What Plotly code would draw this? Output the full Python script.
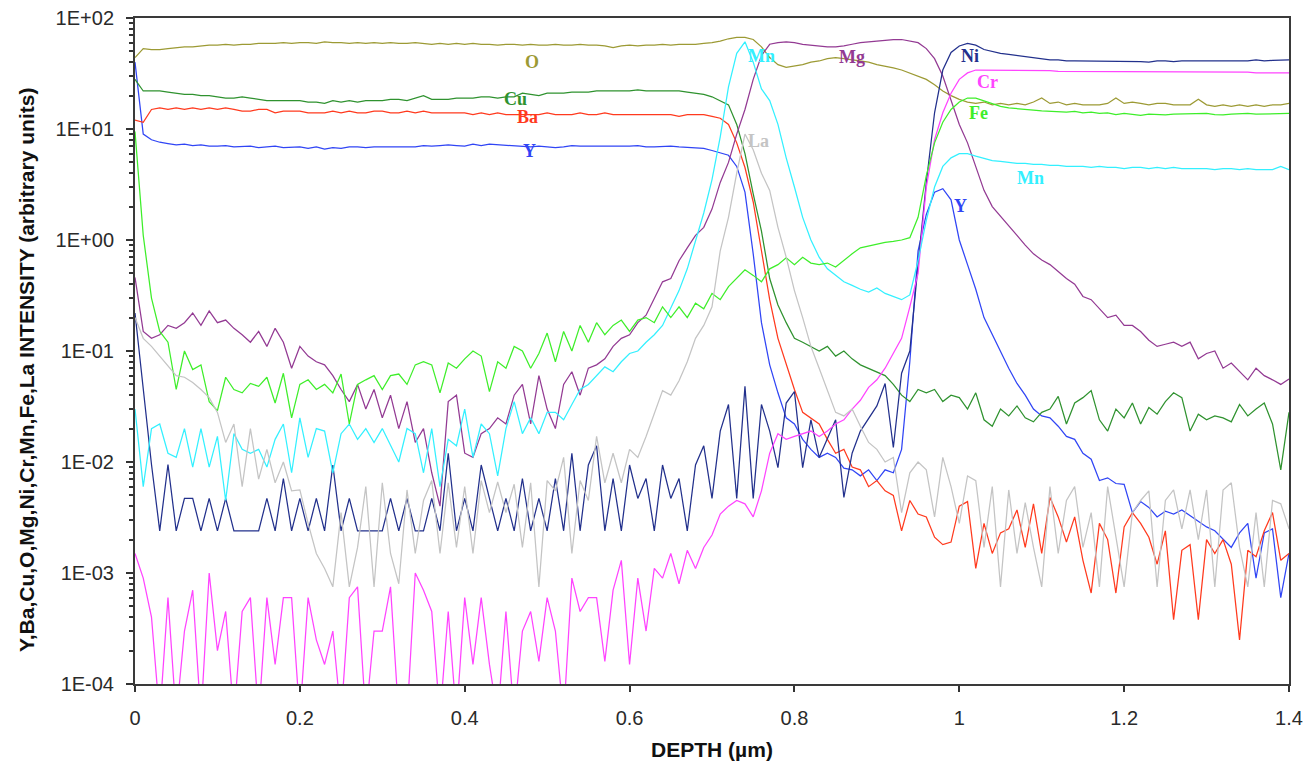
import math
import plotly.graph_objects as go

# Sputter depth (µm), one reading every 0.01 µm
depth = [round(0.01 * i, 2) for i in range(141)]

Z = 5e-5  # zero counts: sits under the 1E-04 floor of the log axis

y_int = [
    40, 9, 8, 7.6, 7.4, 7.2, 7.3, 7.1, 7.2, 7.0,
    7.0, 7.1, 6.9, 6.9, 7.0, 6.8, 6.9, 7.0, 6.8, 6.8,
    6.9, 6.7, 6.9, 6.6, 6.8, 6.7, 6.9, 6.9, 6.8, 6.9,
    6.9, 6.9, 6.9, 6.8, 6.9, 7.1, 7.0, 7.1, 7.2, 7.1,
    7.0, 7.3, 7.1, 7.3, 7.2, 7.2, 7.1, 7.0, 6.9, 7.0,
    6.9, 6.8, 6.9, 7.1, 7.0, 7.0, 6.9, 7.0, 6.9, 7.0,
    7.0, 7.1, 6.9, 6.9, 7.0, 7.0, 6.9, 6.8, 6.8, 6.7,
    6.4, 6.1, 5.8, 4.6, 2.7, 0.75, 0.18, 0.075, 0.042, 0.025,
    0.022, 0.016, 0.013, 0.011, 0.012, 0.011, 0.0088, 0.0085, 0.0075, 0.0085,
    0.0068, 0.0085, 0.008, 0.013, 0.08, 0.8, 1.7, 2.7, 2.9, 2.3,
    1.0, 0.6, 0.36, 0.2, 0.14, 0.1, 0.07, 0.051, 0.04, 0.03,
    0.026, 0.025, 0.021, 0.017, 0.016, 0.012, 0.0106, 0.0068, 0.0072, 0.0064,
    0.0063, 0.0035, 0.0044, 0.0039, 0.0032, 0.0036, 0.0034, 0.0037, 0.0033, 0.0029,
    0.0026, 0.0024, 0.002, 0.0017, 0.0023, 0.0028, 0.0009, 0.0023, 0.0025, 0.0006,
    0.0015,
]

ba_int = [
    12, 11.5, 15, 15.5, 15, 15.5, 15, 15.5, 15, 15.5,
    15, 15.5, 15, 14.5, 14.5, 15, 15, 14, 14.5, 14.5,
    14.5, 14, 14, 14, 14.5, 14, 14.5, 14, 14, 14.5,
    14.5, 14, 14, 14.5, 14, 14.5, 14, 14, 14, 14,
    14, 13.5, 14, 13.5, 14, 13.5, 13.5, 13.5, 13.5, 13.5,
    14, 13.5, 13.5, 13.5, 14, 13.5, 13.5, 14, 13.5, 13.5,
    13.5, 13.5, 13.5, 13.5, 13.5, 13.5, 13, 13.5, 13.5, 13.5,
    13, 12.5, 11, 7.5, 4.5, 2.2, 0.8, 0.29, 0.13, 0.075,
    0.045, 0.028, 0.025, 0.022, 0.016, 0.012, 0.013, 0.009, 0.0085, 0.006,
    0.0068, 0.0055, 0.005, 0.0024, 0.0045, 0.0034, 0.0032, 0.0021, 0.0018, 0.0019,
    0.004, 0.0044, 0.0011, 0.0028, 0.0015, 0.0023, 0.0025, 0.0037, 0.0017, 0.0042,
    0.0015, 0.0048, 0.0032, 0.0019, 0.0032, 0.0013, 0.00066, 0.0028, 0.002, 0.00066,
    0.0026, 0.0035, 0.0028, 0.0021, 0.0012, 0.0024, 0.00038, 0.0016, 0.0018, 0.00038,
    0.002, 0.0015, 0.002, 0.0012, 0.00025, 0.0016, 0.0014, 0.0024, 0.0035, 0.0013,
    0.0015,
]

cu_int = [
    28, 22, 22, 22, 21.5, 21, 20.5, 20.5, 20, 20,
    19.5, 19, 19, 19.5, 19, 18.5, 18, 18, 18, 18,
    18, 17.5, 17.5, 17, 18, 17.5, 18, 17.5, 18, 18,
    18, 18.5, 18.5, 18, 19, 20, 18.5, 18.5, 18.5, 19,
    19, 19, 19.5, 19.5, 19, 19.5, 19.5, 21, 20.5, 20,
    21, 21, 21, 21.5, 21.5, 21.5, 22, 22, 22, 22,
    22, 22.5, 22, 22, 22, 22, 22, 21.5, 21, 20.5,
    19.5, 18, 16.5, 11, 6, 2.6, 1.2, 0.45, 0.26, 0.18,
    0.13, 0.12, 0.11, 0.1, 0.11, 0.09, 0.1, 0.085, 0.075, 0.07,
    0.065, 0.06, 0.05, 0.04, 0.035, 0.045, 0.042, 0.045, 0.035, 0.04,
    0.038, 0.03, 0.042, 0.024, 0.021, 0.03, 0.026, 0.032, 0.025, 0.023,
    0.028, 0.03, 0.039, 0.022, 0.034, 0.038, 0.044, 0.024, 0.019, 0.03,
    0.025, 0.034, 0.022, 0.031, 0.027, 0.035, 0.042, 0.038, 0.019, 0.027,
    0.024, 0.026, 0.025, 0.023, 0.033, 0.026, 0.03, 0.034, 0.022, 0.0085,
    0.028,
]

o_int = [
    44, 53, 52, 52, 53, 54, 55, 55, 56, 57,
    57, 58, 57, 58, 58, 59, 59, 59, 60, 59,
    60, 60, 59, 61, 60, 60, 59, 60, 59, 60,
    59, 60, 59, 59, 60, 59, 58, 59, 58, 59,
    58, 59, 58, 58, 57, 58, 58, 57, 58, 57,
    57, 58, 57, 57, 58, 57, 57, 56, 54, 56,
    57, 56, 57, 57, 58, 57, 58, 58, 58, 59,
    60, 62, 65, 67, 67, 64, 55, 44, 38, 36,
    37, 38, 40, 41, 43, 44, 43, 42, 41, 40,
    38, 37, 35.5, 34, 32, 30, 28, 25, 22, 20,
    18.5, 17.5, 17, 17.5, 16.5, 17, 16.5, 17, 16.5, 17.5,
    19, 17, 17.5, 16.5, 17, 16.5, 16.5, 16.5, 17, 19,
    17, 17.5, 17, 16.5, 17, 17, 16.5, 16.5, 16.5, 18.5,
    16.5, 16, 16.5, 16, 16.5, 16, 16.5, 16, 16.5, 16.5,
    17,
]

mg_int = [
    0.46, 0.15, 0.13, 0.14, 0.17, 0.16, 0.18, 0.22, 0.17, 0.23,
    0.18, 0.19, 0.16, 0.14, 0.12, 0.15, 0.11, 0.16, 0.12, 0.07,
    0.11, 0.09, 0.08, 0.075, 0.06, 0.045, 0.035, 0.05, 0.03, 0.045,
    0.025, 0.04, 0.02, 0.035, 0.015, 0.02, 0.008, 0.004, 0.035, 0.04,
    0.012, 0.011, 0.018, 0.02, 0.025, 0.022, 0.04, 0.05, 0.022, 0.06,
    0.03, 0.02, 0.05, 0.065, 0.04, 0.07, 0.075, 0.085, 0.11, 0.13,
    0.14, 0.18, 0.21, 0.3, 0.42, 0.45, 0.65, 0.85, 1.1, 1.3,
    1.9, 3.3, 5, 9, 15, 28, 46, 58, 60, 61,
    60, 58, 57, 56, 55, 55, 56, 58, 60, 61,
    62, 63, 64, 64, 62, 60, 53, 43, 30, 18,
    11, 7.5, 4.5, 2.8, 2.0, 1.65, 1.35, 1.1, 0.9, 0.75,
    0.66, 0.6, 0.52, 0.45, 0.4, 0.31, 0.29, 0.24, 0.2, 0.21,
    0.17, 0.17, 0.15, 0.125, 0.11, 0.115, 0.12, 0.11, 0.12, 0.085,
    0.095, 0.1, 0.07, 0.078, 0.065, 0.055, 0.07, 0.06, 0.055, 0.05,
    0.056,
]

ni_int = [
    0.22, 0.045, 0.0095, 0.0024, 0.0095, 0.0024, 0.0047, 0.0047, 0.0024, 0.0047,
    0.0024, 0.0047, 0.0024, 0.0024, 0.0024, 0.0024, 0.0047, 0.0024, 0.0071, 0.0024,
    0.0047, 0.0024, 0.0047, 0.0024, 0.0094, 0.0024, 0.0047, 0.0024, 0.0024, 0.0024,
    0.0024, 0.0047, 0.0024, 0.0047, 0.0024, 0.0024, 0.0047, 0.0024, 0.012, 0.0024,
    0.0047, 0.0024, 0.0094, 0.0047, 0.0024, 0.0047, 0.0024, 0.0071, 0.0024, 0.0047,
    0.0024, 0.0071, 0.0024, 0.012, 0.0024, 0.0094, 0.014, 0.0024, 0.0071, 0.0024,
    0.0094, 0.0047, 0.0071, 0.0024, 0.0094, 0.0047, 0.0071, 0.0024, 0.0094, 0.014,
    0.0047, 0.019, 0.033, 0.0047, 0.048, 0.0047, 0.033, 0.019, 0.0089, 0.034,
    0.043, 0.0089, 0.024, 0.011, 0.016, 0.024, 0.0048, 0.012, 0.019, 0.025,
    0.032, 0.051, 0.0135, 0.063, 0.1, 0.6, 3.3, 14, 34, 49,
    56, 59, 57, 52, 50, 48, 47, 46, 45, 44,
    43, 42, 42, 41, 41, 41, 41, 40.5, 41, 41,
    41, 41, 40.5, 40, 41, 41, 40.5, 41, 41, 40.5,
    40.5, 41, 41, 41, 40.5, 41, 42, 41, 41.5, 42,
    42,
]

cr_int = [
    0.0015, 0.0009, 0.0004, Z, 0.0006, Z, 0.0003, 0.0007, Z, 0.001,
    0.0002, 0.00045, Z, 0.00045, 0.0006, Z, 0.0006, 0.00015, 0.0006, 0.0006,
    Z, 0.0006, 0.00025, 0.00015, 0.0003, Z, 0.0006, 0.00075, Z, 0.0003,
    0.0003, 0.00075, Z, Z, 0.001, 0.0007, 0.00045, Z, 0.00045, Z,
    0.0006, 0.00015, 0.0006, 0.00015, Z, 0.00045, Z, 0.0003, 0.00045, 0.00016,
    0.0006, 0.0003, Z, 0.0009, 0.00045, 0.0006, 0.0006, 0.00016, 0.0007, 0.0013,
    0.00015, 0.0009, 0.0003, 0.0011, 0.0009, 0.0015, 0.0008, 0.0016, 0.0011, 0.0017,
    0.0022, 0.0034, 0.004, 0.0045, 0.0042, 0.0032, 0.0055, 0.012, 0.018, 0.016,
    0.017, 0.018, 0.019, 0.017, 0.019, 0.022, 0.024, 0.03, 0.036, 0.047,
    0.055, 0.07, 0.095, 0.13, 0.25, 0.5, 3, 8, 14, 21,
    28, 32, 34, 34, 34, 34, 33.5, 33.5, 34, 33.5,
    33.5, 33.5, 33, 33, 33, 33, 33, 32.5, 32.5, 32.5,
    32.5, 32.5, 32.5, 32.5, 32.5, 32.5, 33, 32.5, 32.5, 32.5,
    32.5, 32.5, 32.5, 32.5, 32.5, 32.5, 32, 32, 32, 32,
    32,
]

mn_int = [
    0.03, 0.006, 0.02, 0.022, 0.012, 0.011, 0.02, 0.009, 0.02, 0.009,
    0.017, 0.0045, 0.018, 0.013, 0.012, 0.013, 0.009, 0.016, 0.022, 0.008,
    0.025, 0.011, 0.02, 0.019, 0.008, 0.018, 0.022, 0.016, 0.02, 0.015,
    0.02, 0.014, 0.01, 0.02, 0.018, 0.008, 0.02, 0.006, 0.016, 0.014,
    0.03, 0.011, 0.022, 0.018, 0.0075, 0.02, 0.035, 0.018, 0.025, 0.018,
    0.028, 0.028, 0.024, 0.033, 0.045, 0.05, 0.06, 0.072, 0.065, 0.08,
    0.095, 0.1, 0.12, 0.14, 0.17, 0.24, 0.35, 0.55, 1.0, 1.75,
    3.5, 8.5, 24, 48, 61, 40, 23, 18, 11, 5.5,
    3, 1.6, 1.0, 0.7, 0.55, 0.48, 0.42, 0.39, 0.36, 0.34,
    0.37, 0.33, 0.31, 0.29, 0.32, 0.65, 1.5, 3, 4.6, 5.5,
    6, 6, 5.7, 5.4, 5.2, 5.1, 5.0, 4.9, 4.9, 4.8,
    4.8, 4.7, 4.7, 4.6, 4.6, 4.6, 4.5, 4.6, 4.5, 4.5,
    4.4, 4.5, 4.5, 4.4, 4.5, 4.4, 4.5, 4.4, 4.4, 4.4,
    4.4, 4.3, 4.4, 4.4, 4.3, 4.4, 4.3, 4.3, 4.3, 4.6,
    4.3,
]

fe_int = [
    9.5, 1.1, 0.3, 0.15, 0.12, 0.045, 0.1, 0.068, 0.075, 0.035,
    0.029, 0.058, 0.045, 0.042, 0.051, 0.048, 0.058, 0.034, 0.063, 0.025,
    0.05, 0.055, 0.045, 0.05, 0.042, 0.062, 0.022, 0.05, 0.055, 0.06,
    0.045, 0.06, 0.062, 0.05, 0.075, 0.08, 0.075, 0.042, 0.078, 0.07,
    0.085, 0.1, 0.09, 0.043, 0.08, 0.07, 0.11, 0.1, 0.07, 0.095,
    0.145, 0.08, 0.15, 0.1, 0.17, 0.12, 0.18, 0.14, 0.17, 0.19,
    0.15, 0.19, 0.2, 0.18, 0.25, 0.2, 0.25, 0.2, 0.27, 0.24,
    0.33, 0.29, 0.38, 0.45, 0.54, 0.48, 0.42, 0.55, 0.6, 0.69,
    0.6, 0.7, 0.62, 0.6, 0.62, 0.57, 0.66, 0.75, 0.85, 0.88,
    0.92, 0.95, 0.97, 1.0, 1.05, 1.6, 3.8, 7.5, 11.5, 15,
    17.5, 19, 19, 18, 17, 16, 15.5, 15.2, 15, 14.8,
    14.6, 14.5, 14.3, 14.2, 14.4, 14.0, 14.2, 13.8, 14.0, 13.5,
    13.8, 13.6, 13.3, 13.6, 13.5, 13.4, 13.6, 13.7, 13.7, 13.8,
    13.8, 13.5, 13.4, 13.6, 13.7, 13.8, 13.6, 13.7, 13.6, 13.8,
    13.8,
]

la_int = [
    0.2, 0.13, 0.11, 0.09, 0.075, 0.06, 0.058, 0.052, 0.045, 0.038,
    0.028, 0.015, 0.022, 0.006, 0.02, 0.007, 0.013, 0.0065, 0.01, 0.0055,
    0.0056, 0.0028, 0.0015, 0.0011, 0.00075, 0.0035, 0.00075, 0.0017, 0.006, 0.00075,
    0.0065, 0.0015, 0.0008, 0.0056, 0.0015, 0.0045, 0.0068, 0.0015, 0.0065, 0.0017,
    0.006, 0.0015, 0.0068, 0.0035, 0.0066, 0.0035, 0.0063, 0.0017, 0.0065, 0.00075,
    0.0068, 0.0055, 0.011, 0.0015, 0.0068, 0.0045, 0.017, 0.0065, 0.012, 0.0065,
    0.013, 0.011, 0.017, 0.028, 0.044, 0.04, 0.054, 0.08, 0.13, 0.17,
    0.25, 0.8, 1.6, 4, 9, 6.5, 4, 2.8, 1.3, 0.7,
    0.35, 0.2, 0.11, 0.07, 0.045, 0.028, 0.026, 0.03, 0.021, 0.015,
    0.013, 0.01, 0.011, 0.0035, 0.008, 0.01, 0.0085, 0.0032, 0.011, 0.006,
    0.0028, 0.0075, 0.0068, 0.0017, 0.006, 0.00075, 0.0056, 0.0015, 0.0043, 0.0017,
    0.00075, 0.006, 0.0015, 0.0045, 0.006, 0.0017, 0.0035, 0.00075, 0.006, 0.0022,
    0.00075, 0.0035, 0.0045, 0.0055, 0.00075, 0.0045, 0.0056, 0.0025, 0.0056, 0.002,
    0.0056, 0.00075, 0.0056, 0.0065, 0.0017, 0.00075, 0.0035, 0.00075, 0.0045, 0.0042,
    0.0025,
]

# Element name, intensities, line colour (drawing order)
profiles = [
    ("Y", y_int, "#3045F5"),
    ("Ba", ba_int, "#FF3A1E"),
    ("Cu", cu_int, "#2F922F"),
    ("O", o_int, "#9C9A34"),
    ("Mg", mg_int, "#933A93"),
    ("Ni", ni_int, "#22308C"),
    ("Cr", cr_int, "#FF44FF"),
    ("Mn", mn_int, "#33F0FF"),
    ("Fe", fe_int, "#3EEE2A"),
    ("La", la_int, "#C4C4C4"),
]
colors = {name: c for name, _, c in profiles}

# In-plot element labels: text, depth, intensity
labels = [
    ("O", 0.4816, 40.1), ("Cu", 0.4622, 18.8), ("Ba", 0.4756, 12.9),
    ("Y", 0.478, 6.3), ("Mn", 0.7606, 45.5), ("La", 0.7558, 7.8),
    ("Mg", 0.8698, 44.5), ("Ni", 1.013, 45.5), ("Cr", 1.0348, 26.5),
    ("Fe", 1.0227, 13.9), ("Mn", 1.0858, 3.63), ("Y", 1.0009, 2.02),
]

x_ticks = [0, 0.2, 0.4, 0.6, 0.8, 1.0, 1.2, 1.4]
x_ticktext = ["0", "0.2", "0.4", "0.6", "0.8", "1", "1.2", "1.4"]
y_ticks = [1e-4, 1e-3, 1e-2, 1e-1, 1e0, 1e1, 1e2]
y_ticktext = ["1E-04", "1E-03", "1E-02", "1E-01", "1E+00", "1E+01", "1E+02"]
y_minor = [k * 10.0 ** e for e in range(-4, 2) for k in range(2, 10)]

fig = go.Figure()
for name, vals, col in profiles:
    assert len(vals) == len(depth), (name, len(vals))
    fig.add_trace(go.Scatter(
        x=depth, y=vals, mode="lines", name=name,
        line=dict(color=col, width=1.25), showlegend=False,
    ))

for text, xd, yv in labels:
    fig.add_annotation(
        x=xd, y=math.log10(yv), text=f"<b>{text}</b>", showarrow=False,
        font=dict(family="Liberation Serif", size=18, color=colors[text]),
        xanchor="center", yanchor="middle",
    )

# Vertical axis title, set a little below the middle of the plot height
fig.add_annotation(
    xref="paper", yref="paper", x=-0.0936, y=0.4715,
    text="<b>Y,Ba,Cu,O,Mg,Ni,Cr,Mn,Fe,La INTENSITY (arbitrary units)</b>",
    textangle=-90, showarrow=False, xanchor="center", yanchor="middle",
    font=dict(family="Liberation Sans", size=21, color="#111"),
)

axis_font = dict(family="Liberation Sans", size=20, color="#2a2a2a")
fig.update_layout(
    width=1313, height=765,
    margin=dict(l=135, r=24, t=18, b=81),
    paper_bgcolor="white", plot_bgcolor="white",
    xaxis=dict(
        range=[0, 1.4], tickvals=x_ticks, ticktext=x_ticktext,
        ticks="outside", ticklen=6, tickwidth=1.5, tickcolor="#333",
        showline=True, linecolor="#3a3a3a", linewidth=2, mirror=True,
        showgrid=False, zeroline=False, tickfont=axis_font,
        ticklabelstandoff=9, automargin=False,
        title=dict(text="<b>DEPTH (µm)</b>", standoff=14,
                   font=dict(family="Liberation Sans", size=21, color="#111")),
    ),
    yaxis=dict(
        type="log", range=[-4, 2], tickvals=y_ticks, ticktext=y_ticktext,
        ticks="outside", ticklen=7, tickwidth=1.5, tickcolor="#333",
        minor=dict(tickvals=y_minor, ticks="outside", ticklen=4,
                   tickcolor="#333", showgrid=False),
        showline=True, linecolor="#3a3a3a", linewidth=2, mirror=True,
        showgrid=False, zeroline=False, tickfont=axis_font,
        ticklabelstandoff=8, automargin=False,
    ),
)

fig.write_html("out.html")
